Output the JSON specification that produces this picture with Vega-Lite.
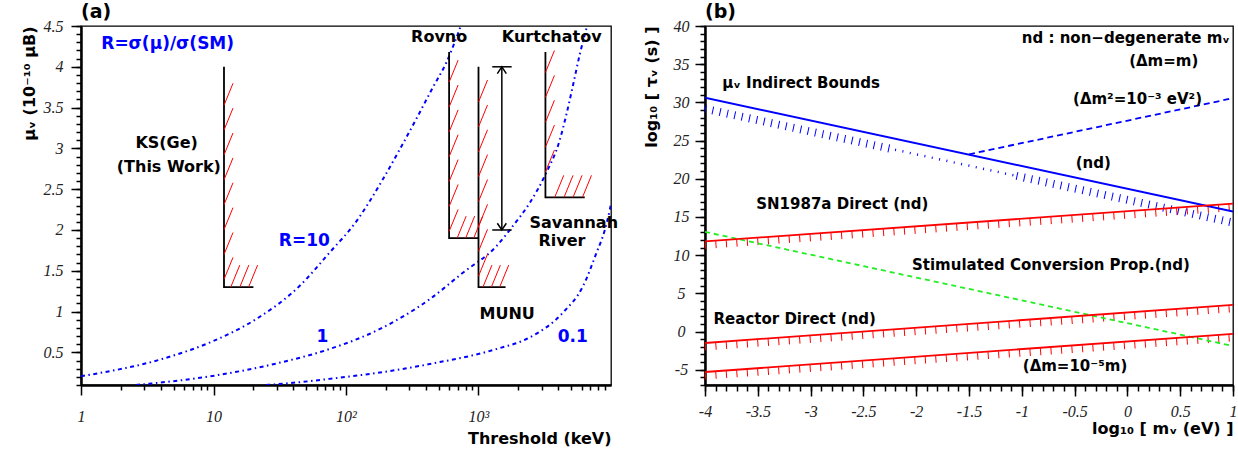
{
  "$schema": "https://vega.github.io/schema/vega-lite/v6.json",
  "background": "white",
  "padding": {"left": 20, "top": 2, "right": 2, "bottom": 2},
  "bounds": "flush",
  "spacing": 94,
  "config": {
    "view": {"stroke": "#000", "strokeWidth": 1.3},
    "axis": {"domainColor": "#000", "domainWidth": 2, "tickColor": "#000", "tickWidth": 1.5, "grid": false,
      "labelFont": "Liberation Serif", "labelFontStyle": "italic", "labelFontSize": 16, "labelColor": "#222",
      "labelFlush": false, "labelOverlap": false,
      "titleFont": "DejaVu Sans", "titleFontWeight": "bold", "titleFontSize": 16, "titleColor": "#000"},
    "title": {"font": "DejaVu Sans", "fontWeight": "bold", "fontSize": 19, "color": "#000"},
    "text": {"font": "DejaVu Sans", "fontWeight": "bold"}
  },
  "datasets": {
    "curvesA": [
      {"R": "10", "T": 1, "mu": 0.207}, {"R": "10", "T": 4.26, "mu": 0.427}, {"R": "10", "T": 10, "mu": 0.64},
      {"R": "10", "T": 20.9, "mu": 0.906}, {"R": "10", "T": 44.4, "mu": 1.31}, {"R": "10", "T": 74.9, "mu": 1.72},
      {"R": "10", "T": 119, "mu": 2.1}, {"R": "10", "T": 188, "mu": 2.61}, {"R": "10", "T": 253, "mu": 2.98},
      {"R": "10", "T": 339, "mu": 3.36}, {"R": "10", "T": 450, "mu": 3.74}, {"R": "10", "T": 571, "mu": 4.05},
      {"R": "10", "T": 735, "mu": 4.5},
      {"R": "1", "T": 2.6, "mu": 0.1}, {"R": "1", "T": 10.2, "mu": 0.215}, {"R": "1", "T": 32.5, "mu": 0.378},
      {"R": "1", "T": 74.9, "mu": 0.54}, {"R": "1", "T": 179, "mu": 0.784}, {"R": "1", "T": 427, "mu": 1.15},
      {"R": "1", "T": 762, "mu": 1.476}, {"R": "1", "T": 1362, "mu": 1.8}, {"R": "1", "T": 1820, "mu": 2.05},
      {"R": "1", "T": 2432, "mu": 2.33}, {"R": "1", "T": 3200, "mu": 2.68}, {"R": "1", "T": 4100, "mu": 3.1},
      {"R": "1", "T": 4613, "mu": 3.42}, {"R": "1", "T": 5176, "mu": 3.78}, {"R": "1", "T": 5808, "mu": 4.15},
      {"R": "1", "T": 6600, "mu": 4.5},
      {"R": "0.1", "T": 25, "mu": 0.1}, {"R": "0.1", "T": 45, "mu": 0.135}, {"R": "0.1", "T": 75, "mu": 0.175},
      {"R": "0.1", "T": 253, "mu": 0.29}, {"R": "0.1", "T": 427, "mu": 0.357}, {"R": "0.1", "T": 1362, "mu": 0.54},
      {"R": "0.1", "T": 2432, "mu": 0.683}, {"R": "0.1", "T": 4345, "mu": 0.988}, {"R": "0.1", "T": 6149, "mu": 1.312},
      {"R": "0.1", "T": 7770, "mu": 1.72}, {"R": "0.1", "T": 8980, "mu": 2.0}, {"R": "0.1", "T": 9800, "mu": 2.25},
      {"R": "0.1", "T": 10000, "mu": 2.32}
    ],
    "limitsA": [
      {"exp": "KS", "o": 1, "T": 12, "mu": 4.0}, {"exp": "KS", "o": 2, "T": 12, "mu": 1.3}, {"exp": "KS", "o": 3, "T": 20, "mu": 1.3},
      {"exp": "Rovno", "o": 1, "T": 600, "mu": 4.18}, {"exp": "Rovno", "o": 2, "T": 600, "mu": 1.9}, {"exp": "Rovno", "o": 3, "T": 1000, "mu": 1.9},
      {"exp": "MUNU", "o": 1, "T": 1000, "mu": 4.0}, {"exp": "MUNU", "o": 2, "T": 1000, "mu": 1.3}, {"exp": "MUNU", "o": 3, "T": 1600, "mu": 1.3},
      {"exp": "Kurtchatov", "o": 1, "T": 3200, "mu": 4.18}, {"exp": "Kurtchatov", "o": 2, "T": 3200, "mu": 2.4}, {"exp": "Kurtchatov", "o": 3, "T": 6340, "mu": 2.4}
    ],
    "hatchA": [
      {"T": 12, "mu": 3.528}, {"T": 12, "mu": 3.224}, {"T": 12, "mu": 2.919}, {"T": 12, "mu": 2.614},
      {"T": 12, "mu": 2.309}, {"T": 12, "mu": 2.004}, {"T": 12, "mu": 1.699}, {"T": 12, "mu": 1.394},
      {"T": 13.5, "mu": 1.3}, {"T": 15.8, "mu": 1.3}, {"T": 18.4, "mu": 1.3},
      {"T": 600, "mu": 3.812}, {"T": 600, "mu": 3.507}, {"T": 600, "mu": 3.202}, {"T": 600, "mu": 2.898},
      {"T": 600, "mu": 2.593}, {"T": 600, "mu": 2.288}, {"T": 600, "mu": 1.983},
      {"T": 690, "mu": 1.9}, {"T": 800, "mu": 1.9}, {"T": 920, "mu": 1.9},
      {"T": 1000, "mu": 3.568}, {"T": 1000, "mu": 3.263}, {"T": 1000, "mu": 2.959}, {"T": 1000, "mu": 2.654},
      {"T": 1000, "mu": 2.349}, {"T": 1000, "mu": 2.044}, {"T": 1000, "mu": 1.739}, {"T": 1000, "mu": 1.434},
      {"T": 1080, "mu": 1.3}, {"T": 1250, "mu": 1.3}, {"T": 1445, "mu": 1.3},
      {"T": 3200, "mu": 3.93}, {"T": 3200, "mu": 3.625}, {"T": 3200, "mu": 3.32}, {"T": 3200, "mu": 3.016}, {"T": 3200, "mu": 2.711},
      {"T": 3760, "mu": 2.4}, {"T": 4420, "mu": 2.4}, {"T": 5170, "mu": 2.4}, {"T": 6090, "mu": 2.4}
    ],
    "arrowA": [
      {"T": 1500, "T2": 1500, "mu": 2.0, "mu2": 4.0},
      {"T": 1270, "T2": 1780, "mu": 4.0, "mu2": 4.0},
      {"T": 1270, "T2": 1780, "mu": 2.0, "mu2": 2.0}
    ],
    "headsA": [
      {"T": 1500, "mu": 4.0, "dir": "up"},
      {"T": 1500, "mu": 2.0, "dir": "down"}
    ],
    "labelsA": [
      {"text": "R=σ(μ)/σ(SM)", "T": 4.51, "mu": 4.28, "kind": "ratio"},
      {"text": "R=10", "T": 48.5, "mu": 1.87, "kind": "ratio"},
      {"text": "1", "T": 66.3, "mu": 0.683, "kind": "ratio"},
      {"text": "0.1", "T": 5143, "mu": 0.683, "kind": "ratio"},
      {"text": "KS(Ge)", "T": 4.43, "mu": 3.065, "kind": "experiment"},
      {"text": "(This Work)", "T": 4.6, "mu": 2.772, "kind": "experiment"},
      {"text": "Rovno", "T": 505, "mu": 4.36, "kind": "experiment"},
      {"text": "Kurtchatov", "T": 3570, "mu": 4.36, "kind": "experiment"},
      {"text": "MUNU", "T": 1645, "mu": 0.967, "kind": "experiment"},
      {"text": "Savannah", "T": 5235, "mu": 2.09, "kind": "experiment"},
      {"text": "River", "T": 4265, "mu": 1.86, "kind": "experiment"}
    ],
    "linesB": [
      {"line": "indirect", "x": -4, "y": 30.6}, {"line": "indirect", "x": 1, "y": 15.7},
      {"line": "dm2", "x": -1.5, "y": 23.2}, {"line": "dm2", "x": 1, "y": 30.55},
      {"line": "sn", "x": -4, "y": 11.8}, {"line": "sn", "x": 1, "y": 16.75},
      {"line": "stim", "x": -4, "y": 13.05}, {"line": "stim", "x": 1, "y": -1.9},
      {"line": "reactor", "x": -4, "y": -1.5}, {"line": "reactor", "x": 1, "y": 3.5},
      {"line": "dm5", "x": -4, "y": -5.3}, {"line": "dm5", "x": 1, "y": -0.3}
    ],
    "hatchB": [
      {"seg": "blueA", "kind": "full", "x": -4, "y": 30.6}, {"seg": "blueA", "kind": "full", "x": -2.2, "y": 25.24},
      {"seg": "blueB", "kind": "dots", "x": -2.2, "y": 25.24}, {"seg": "blueB", "kind": "dots", "x": -1.05, "y": 21.81},
      {"seg": "blueC", "kind": "full", "x": -1.05, "y": 21.81}, {"seg": "blueC", "kind": "full", "x": 1, "y": 15.7}
    ],
    "labelsB": [
      {"text": "μᵥ Indirect Bounds", "x": -3.09, "y": 32.58},
      {"text": "SN1987a Direct (nd)", "x": -2.7, "y": 16.75},
      {"text": "nd : non−degenerate mᵥ", "x": -0.015, "y": 38.46},
      {"text": "(Δm=m)", "x": 0.344, "y": 35.42},
      {"text": "(Δm²=10⁻³ eV²)", "x": 0.096, "y": 30.46},
      {"text": "(nd)", "x": -0.323, "y": 22.06},
      {"text": "Stimulated Conversion Prop.(nd)", "x": -0.724, "y": 8.66},
      {"text": "Reactor Direct (nd)", "x": -3.15, "y": 1.7},
      {"text": "(Δm=10⁻⁵m)", "x": -0.496, "y": -4.49}
    ]
  },
  "hconcat": [
    {
      "width": 530,
      "height": 359,
      "title": {"text": "(a)", "anchor": "start", "frame": "group", "offset": -4},
      "resolve": {"axis": {"x": "independent", "y": "independent"}},
      "layer": [
        {
          "data": {"name": "curvesA"},
          "mark": {"type": "line", "clip": true, "interpolate": "monotone", "color": "#0000ff", "strokeWidth": 2, "strokeDash": [4, 3.5, 1.5, 3.5]},
          "encoding": {
            "x": {"field": "T", "type": "quantitative", "scale": {"type": "log", "domain": [1, 10000], "nice": false},
              "axis": {"orient": "bottom", "values": [1, 10, 100, 1000], "tickSize": 10, "labelPadding": 13,
                "labelExpr": "datum.value == 1 ? '1' : datum.value == 10 ? '10' : datum.value == 100 ? '10²' : datum.value == 1000 ? '10³' : ''",
                "title": "Threshold (keV)", "titleAnchor": "end", "titlePadding": 6}},
            "y": {"field": "mu", "type": "quantitative", "scale": {"domain": [0.1, 4.5], "nice": false, "zero": false},
              "axis": {"orient": "left", "values": [0.5, 1, 1.5, 2, 2.5, 3, 3.5, 4, 4.5], "tickSize": 10, "labelPadding": 8,
                "labelExpr": "'' + datum.value", "title": "μᵥ (10⁻¹⁰ μB)", "titleFontSize": 16, "titleAnchor": "end", "titlePadding": 6}},
            "detail": {"field": "R"}
          }
        },
        {
          "data": {"name": "limitsA"},
          "mark": {"type": "line", "color": "#000", "strokeWidth": 1.8},
          "encoding": {
            "x": {"field": "T", "type": "quantitative", "scale": {"type": "log", "domain": [1, 10000], "nice": false},
              "axis": {"orient": "bottom", "values": [2, 3, 4, 5, 6, 7, 8, 9, 20, 30, 40, 50, 60, 70, 80, 90, 200, 300, 400, 500, 600, 700, 800, 900, 2000, 3000, 4000, 5000, 6000, 7000, 8000, 9000],
                "tickSize": 5, "labels": false, "title": null}},
            "y": {"field": "mu", "type": "quantitative", "scale": {"domain": [0.1, 4.5], "nice": false, "zero": false},
              "axis": {"orient": "left", "values": [0.1, 0.2, 0.3, 0.4, 0.5, 0.6, 0.7, 0.8, 0.9, 1, 1.1, 1.2, 1.3, 1.4, 1.5, 1.6, 1.7, 1.8, 1.9, 2, 2.1, 2.2, 2.3, 2.4, 2.5, 2.6, 2.7, 2.8, 2.9, 3, 3.1, 3.2, 3.3, 3.4, 3.5, 3.6, 3.7, 3.8, 3.9, 4, 4.1, 4.2, 4.3, 4.4, 4.5],
                "tickSize": 5, "labels": false, "title": null}},
            "detail": {"field": "exp"},
            "order": {"field": "o"}
          }
        },
        {
          "data": {"name": "hatchA"},
          "mark": {"type": "point", "shape": "M0,0L0.82,-2", "size": 484, "filled": false, "color": "#ff0000", "strokeWidth": 1, "opacity": 1},
          "encoding": {
            "x": {"field": "T", "type": "quantitative", "scale": {"type": "log", "domain": [1, 10000], "nice": false}, "axis": null},
            "y": {"field": "mu", "type": "quantitative", "scale": {"domain": [0.1, 4.5], "nice": false, "zero": false}, "axis": null}
          }
        },
        {
          "data": {"name": "arrowA"},
          "mark": {"type": "rule", "color": "#000", "strokeWidth": 1.5},
          "encoding": {
            "x": {"field": "T", "type": "quantitative", "scale": {"type": "log", "domain": [1, 10000], "nice": false}, "axis": null},
            "x2": {"field": "T2"},
            "y": {"field": "mu", "type": "quantitative", "scale": {"domain": [0.1, 4.5], "nice": false, "zero": false}, "axis": null},
            "y2": {"field": "mu2"}
          }
        },
        {
          "data": {"name": "headsA"},
          "mark": {"type": "point", "size": 81, "filled": false, "color": "#000", "strokeWidth": 1.5, "opacity": 1},
          "encoding": {
            "x": {"field": "T", "type": "quantitative", "scale": {"type": "log", "domain": [1, 10000], "nice": false}, "axis": null},
            "y": {"field": "mu", "type": "quantitative", "scale": {"domain": [0.1, 4.5], "nice": false, "zero": false}, "axis": null},
            "shape": {"field": "dir", "type": "nominal", "scale": {"domain": ["up", "down"], "range": ["M-1,1.5L0,0L1,1.5", "M-1,-1.5L0,0L1,-1.5"]}, "legend": null}
          }
        },
        {
          "data": {"name": "labelsA"},
          "mark": {"type": "text", "fontSize": 16, "align": "center", "baseline": "middle"},
          "encoding": {
            "x": {"field": "T", "type": "quantitative", "scale": {"type": "log", "domain": [1, 10000], "nice": false}, "axis": null},
            "y": {"field": "mu", "type": "quantitative", "scale": {"domain": [0.1, 4.5], "nice": false, "zero": false}, "axis": null},
            "text": {"field": "text"},
            "color": {"field": "kind", "type": "nominal", "scale": {"domain": ["ratio", "experiment"], "range": ["#0000ff", "#000000"]}, "legend": null},
            "size": {"field": "kind", "type": "nominal", "scale": {"domain": ["ratio", "experiment"], "range": [17, 16]}, "legend": null}
          }
        }
      ]
    },
    {
      "width": 528,
      "height": 359,
      "title": {"text": "(b)", "anchor": "start", "frame": "group", "offset": -4},
      "resolve": {"axis": {"x": "independent", "y": "independent"}},
      "layer": [
        {
          "data": {"name": "linesB"},
          "transform": [{"filter": "datum.line == 'sn' || datum.line == 'reactor' || datum.line == 'dm5'"}],
          "mark": {"type": "line", "clip": true, "color": "#ff0000", "strokeWidth": 7, "strokeDash": [1, 9.5], "yOffset": 4},
          "encoding": {
            "x": {"field": "x", "type": "quantitative", "scale": {"domain": [-4, 1], "nice": false, "zero": false},
              "axis": {"orient": "bottom", "values": [-4, -3.9, -3.8, -3.7, -3.6, -3.5, -3.4, -3.3, -3.2, -3.1, -3, -2.9, -2.8, -2.7, -2.6, -2.5, -2.4, -2.3, -2.2, -2.1, -2, -1.9, -1.8, -1.7, -1.6, -1.5, -1.4, -1.3, -1.2, -1.1, -1, -0.9, -0.8, -0.7, -0.6, -0.5, -0.4, -0.3, -0.2, -0.1, 0, 0.1, 0.2, 0.3, 0.4, 0.5, 0.6, 0.7, 0.8, 0.9, 1],
                "tickSize": 6, "labels": false, "title": null}},
            "y": {"field": "y", "type": "quantitative", "scale": {"domain": [-7, 40], "nice": false, "zero": false},
              "axis": {"orient": "left", "values": [-7, -6, -5, -4, -3, -2, -1, 0, 1, 2, 3, 4, 5, 6, 7, 8, 9, 10, 11, 12, 13, 14, 15, 16, 17, 18, 19, 20, 21, 22, 23, 24, 25, 26, 27, 28, 29, 30, 31, 32, 33, 34, 35, 36, 37, 38, 39, 40],
                "tickSize": 5, "labels": false, "title": null}},
            "detail": {"field": "line"}
          }
        },
        {
          "data": {"name": "hatchB"},
          "transform": [{"filter": "datum.kind == 'full'"}],
          "mark": {"type": "line", "clip": true, "color": "#0000ff", "strokeWidth": 8, "strokeDash": [1, 6.5], "yOffset": 11},
          "encoding": {
            "x": {"field": "x", "type": "quantitative", "scale": {"domain": [-4, 1], "nice": false, "zero": false}, "axis": null},
            "y": {"field": "y", "type": "quantitative", "scale": {"domain": [-7, 40], "nice": false, "zero": false}, "axis": null},
            "detail": {"field": "seg"}
          }
        },
        {
          "data": {"name": "hatchB"},
          "transform": [{"filter": "datum.kind == 'dots'"}],
          "mark": {"type": "line", "clip": true, "color": "#0000ff", "strokeWidth": 2.5, "strokeDash": [1, 6.5], "yOffset": 11},
          "encoding": {
            "x": {"field": "x", "type": "quantitative", "scale": {"domain": [-4, 1], "nice": false, "zero": false}, "axis": null},
            "y": {"field": "y", "type": "quantitative", "scale": {"domain": [-7, 40], "nice": false, "zero": false}, "axis": null},
            "detail": {"field": "seg"}
          }
        },
        {
          "data": {"name": "linesB"},
          "transform": [{"filter": "datum.line == 'indirect'"}],
          "mark": {"type": "line", "clip": true, "color": "#0000ff", "strokeWidth": 2},
          "encoding": {
            "x": {"field": "x", "type": "quantitative", "scale": {"domain": [-4, 1], "nice": false, "zero": false},
              "axis": {"orient": "bottom", "values": [-4, -3.5, -3, -2.5, -2, -1.5, -1, -0.5, 0, 0.5, 1], "tickSize": 11, "labelPadding": 7,
                "labelExpr": "'' + datum.value", "title": "log₁₀ [ mᵥ (eV) ]", "titleAnchor": "end", "titlePadding": 1}},
            "y": {"field": "y", "type": "quantitative", "scale": {"domain": [-7, 40], "nice": false, "zero": false},
              "axis": {"orient": "left", "values": [-5, 0, 5, 10, 15, 20, 25, 30, 35, 40], "tickSize": 10, "labelPadding": 14, "labelAlign": "center",
                "labelExpr": "'' + datum.value", "title": "log₁₀ [ τᵥ (s) ]", "titleAnchor": "end", "titlePadding": 14}}
          }
        },
        {
          "data": {"name": "linesB"},
          "transform": [{"filter": "datum.line == 'dm2'"}],
          "mark": {"type": "line", "clip": true, "color": "#0000ff", "strokeWidth": 1.8, "strokeDash": [6, 4]},
          "encoding": {
            "x": {"field": "x", "type": "quantitative", "scale": {"domain": [-4, 1], "nice": false, "zero": false}, "axis": null},
            "y": {"field": "y", "type": "quantitative", "scale": {"domain": [-7, 40], "nice": false, "zero": false}, "axis": null}
          }
        },
        {
          "data": {"name": "linesB"},
          "transform": [{"filter": "datum.line == 'stim'"}],
          "mark": {"type": "line", "clip": true, "color": "#22ee22", "strokeWidth": 1.8, "strokeDash": [5, 4]},
          "encoding": {
            "x": {"field": "x", "type": "quantitative", "scale": {"domain": [-4, 1], "nice": false, "zero": false}, "axis": null},
            "y": {"field": "y", "type": "quantitative", "scale": {"domain": [-7, 40], "nice": false, "zero": false}, "axis": null}
          }
        },
        {
          "data": {"name": "linesB"},
          "transform": [{"filter": "datum.line == 'sn' || datum.line == 'reactor' || datum.line == 'dm5'"}],
          "mark": {"type": "line", "clip": true, "color": "#ff0000", "strokeWidth": 1.8},
          "encoding": {
            "x": {"field": "x", "type": "quantitative", "scale": {"domain": [-4, 1], "nice": false, "zero": false}, "axis": null},
            "y": {"field": "y", "type": "quantitative", "scale": {"domain": [-7, 40], "nice": false, "zero": false}, "axis": null},
            "detail": {"field": "line"}
          }
        },
        {
          "data": {"name": "labelsB"},
          "mark": {"type": "text", "fontSize": 15, "align": "center", "baseline": "middle", "color": "#000"},
          "encoding": {
            "x": {"field": "x", "type": "quantitative", "scale": {"domain": [-4, 1], "nice": false, "zero": false}, "axis": null},
            "y": {"field": "y", "type": "quantitative", "scale": {"domain": [-7, 40], "nice": false, "zero": false}, "axis": null},
            "text": {"field": "text"}
          }
        }
      ]
    }
  ]
}
